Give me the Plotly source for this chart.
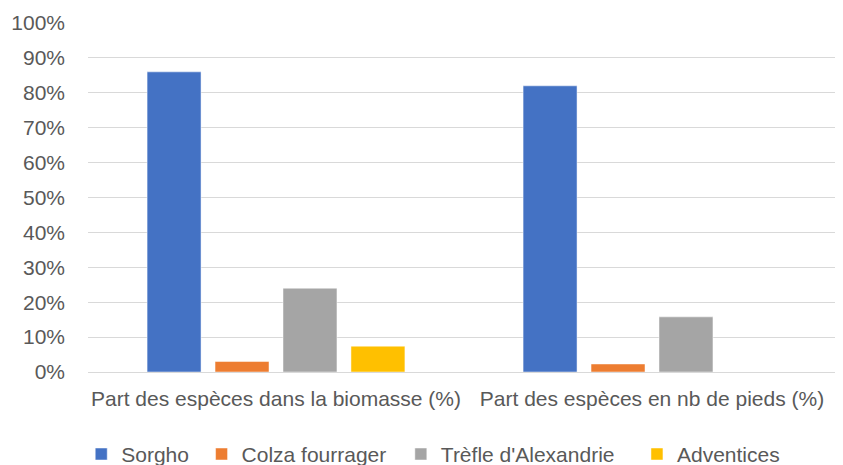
import plotly.graph_objects as go

categories = ["Part des espèces dans la biomasse (%)", "Part des espèces en nb de pieds (%)"]
series_names = ["Sorgho", "Colza fourrager", "Trèfle d'Alexandrie", "Adventices"]
sorgho = [0.86, 0.82]
colza = [0.03, 0.023]
trefle = [0.24, 0.158]
adventices = [0.074, 0.0]
colors = ["#4472C4", "#ED7D31", "#A5A5A5", "#FFC000"]
y_ticks = [i / 10 for i in range(11)]

legend_ids = ["legend", "legend2", "legend3", "legend4"]
legend_x = [-0.009, 0.151, 0.416, 0.730]

fig = go.Figure()
for name, vals, col, lid in zip(series_names, [sorgho, colza, trefle, adventices], colors, legend_ids):
    fig.add_trace(go.Bar(
        name=name, x=categories, y=vals, legend=lid,
        marker=dict(color=col, line=dict(color="rgba(255,255,255,0.6)", width=0.8)),
    ))

font = dict(family="Liberation Sans, Arial, sans-serif", size=21, color="#595959")
leg_common = dict(orientation="h", xanchor="left", y=-0.236, yanchor="middle",
                  font=font, itemwidth=30, bgcolor="rgba(0,0,0,0)")
fig.update_layout(
    width=835, height=457,
    margin=dict(l=80, r=3, t=15, b=93, autoexpand=False),
    barmode="group", bargap=0.277, bargroupgap=0.206,
    plot_bgcolor="white", paper_bgcolor="white",
    font=font,
    showlegend=True,
    legend=dict(x=legend_x[0], **leg_common),
    legend2=dict(x=legend_x[1], **leg_common),
    legend3=dict(x=legend_x[2], **leg_common),
    legend4=dict(x=legend_x[3], **leg_common),
    xaxis=dict(showgrid=False, showline=False, ticks="", tickfont=font,
               automargin=False, ticklabelstandoff=12),
    yaxis=dict(range=[0, 1.0], tickvals=y_ticks, tickformat=".0%",
               showgrid=True, gridcolor="#D9D9D9", gridwidth=1.3,
               zeroline=True, zerolinecolor="#D9D9D9", zerolinewidth=1.3,
               showline=False, ticks="", tickfont=font, ticklabelstandoff=22,
               automargin=False),
)
fig.write_html("out.html")
